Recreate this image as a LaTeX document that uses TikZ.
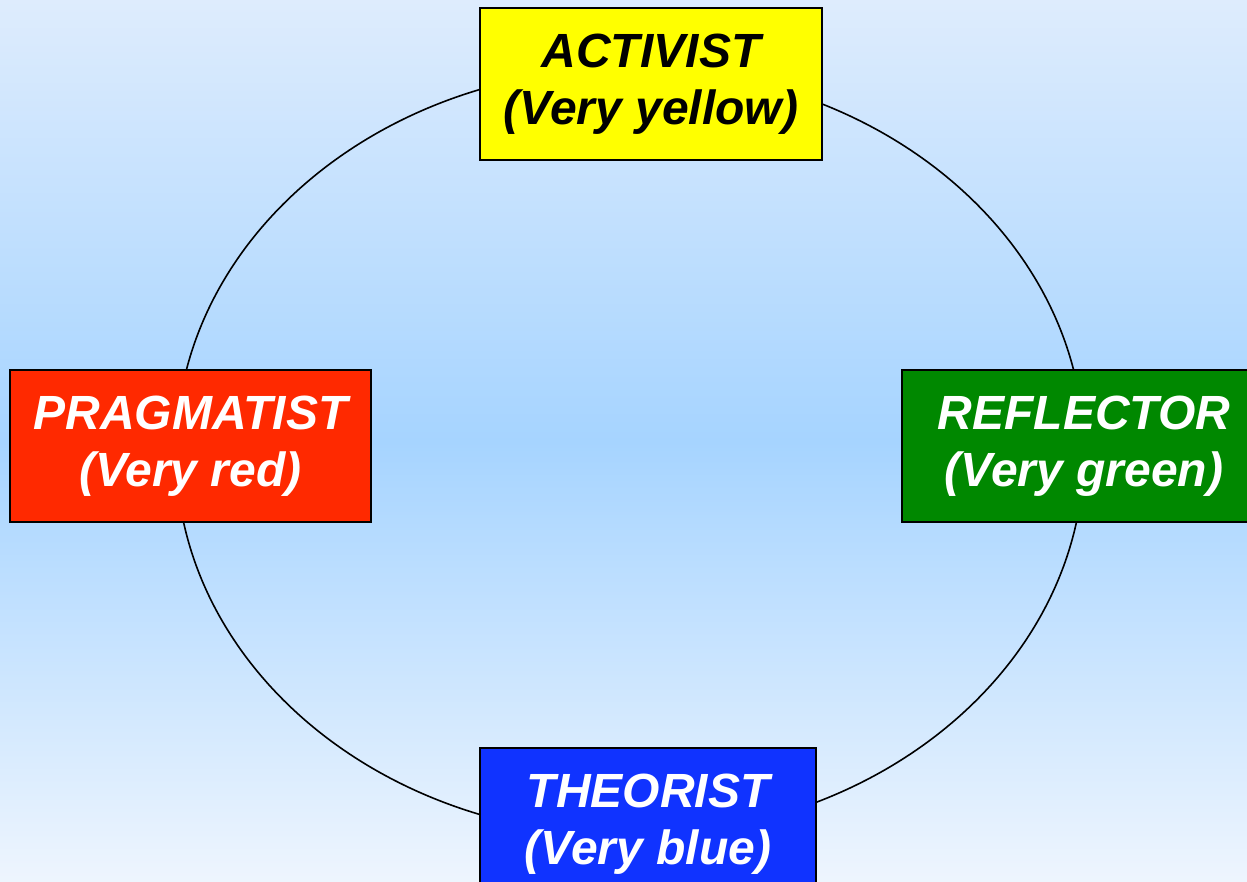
\documentclass[tikz,border=0pt]{standalone}
\usepackage{fontspec}
\setmainfont{Liberation Sans}

\definecolor{bgtop}{RGB}{222,236,253}
\definecolor{bgmid}{RGB}{166,212,255}
\definecolor{bgbot}{RGB}{238,245,254}
\definecolor{styleyellow}{RGB}{255,255,0}
\definecolor{stylered}{RGB}{255,41,0}
\definecolor{stylegreen}{RGB}{0,136,0}
\definecolor{styleblue}{RGB}{16,51,255}

\tikzset{
  stylebox/.style={draw=black, line width=1pt, align=center, inner sep=0pt,
    minimum height=76pt, font=\fontsize{24}{28.5}\selectfont\bfseries\itshape},
}

\begin{document}
\begin{tikzpicture}[x=0.5pt,y=-0.5pt]
    % background
\clip (0,0) rectangle (1247,882);
\shade[top color=bgtop, bottom color=bgbot, middle color=bgmid] (0,0) rectangle (1247,882);

\draw[line width=0.8pt] (630,452) ellipse [x radius=454, y radius=384];

\node[stylebox, fill=styleyellow, minimum width=171pt] (activist) at (651,84) {ACTIVIST\\(Very yellow)};
\node[stylebox, fill=stylered, text=white, minimum width=180.5pt] (pragmatist) at (190.5,446) {PRAGMATIST\\(Very red)};
\node[stylebox, fill=stylegreen, text=white, minimum width=182pt] (reflector) at (1084,446) {REFLECTOR\\(Very green)};
\node[stylebox, fill=styleblue, text=white, minimum width=168pt] (theorist) at (648,824) {THEORIST\\(Very blue)};
\end{tikzpicture}
\end{document}
